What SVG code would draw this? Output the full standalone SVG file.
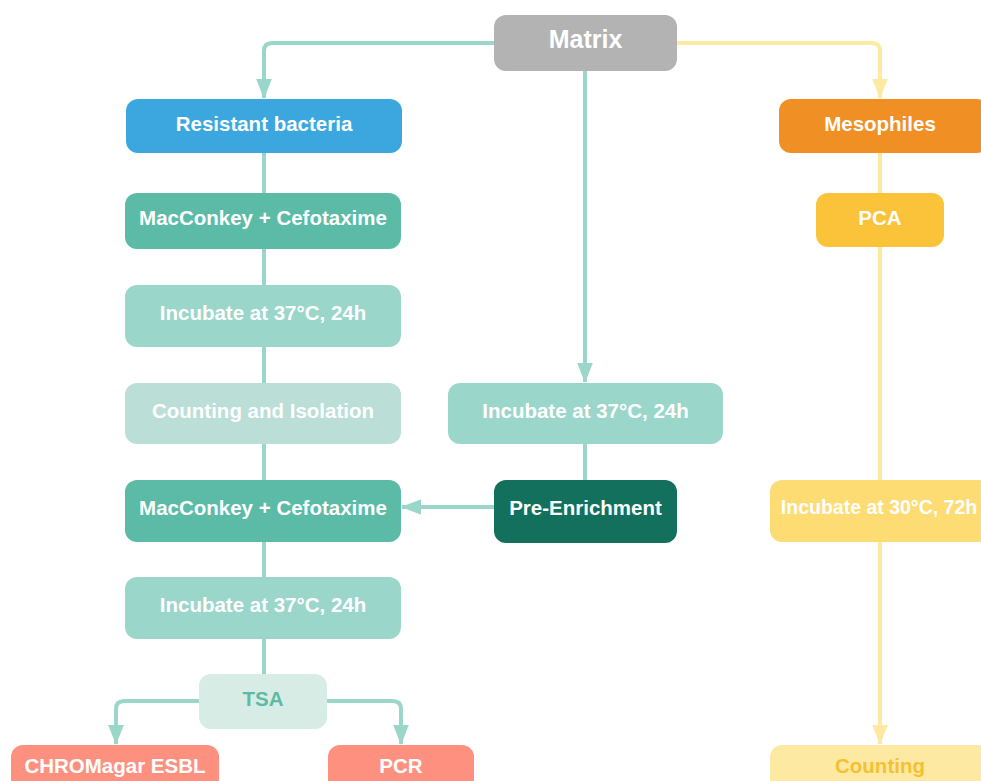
<svg xmlns="http://www.w3.org/2000/svg" width="981" height="781" viewBox="0 0 981 781">
<style>
text{font-family:"Liberation Sans",Arial,sans-serif;font-weight:bold;font-size:20.5px;fill:#fff;text-anchor:middle;dominant-baseline:central}
.g{fill:none;stroke:#9bd6ca;stroke-width:4;stroke-linejoin:round}
.y{fill:none;stroke:#fee9a3;stroke-width:4;stroke-linejoin:round}
</style>
<defs>
<marker id="ag" viewBox="0 0 10 10" refX="9.5" refY="5" markerWidth="5" markerHeight="3.9" orient="auto" markerUnits="strokeWidth" preserveAspectRatio="none"><path d="M0,0L10,5L0,10z" fill="#9bd6ca"/></marker>
<marker id="ay" viewBox="0 0 10 10" refX="9.5" refY="5" markerWidth="5" markerHeight="3.9" orient="auto" markerUnits="strokeWidth" preserveAspectRatio="none"><path d="M0,0L10,5L0,10z" fill="#fee9a3"/></marker>
</defs>
<rect width="981" height="781" fill="#fff"/>
<g id="connectors">
<path class="g" d="M494,43H272Q264,43 264,51V98" marker-end="url(#ag)"/>
<path class="y" d="M677,43H872Q880,43 880,51V98" marker-end="url(#ay)"/>
<path class="g" d="M585,71V382" marker-end="url(#ag)"/>
<path class="g" d="M264,153V577"/>
<path class="g" d="M264,639V674"/>
<path class="g" d="M585,444V480"/>
<path class="g" d="M494,507H402" marker-end="url(#ag)"/>
<path class="g" d="M199,701H124Q116,701 116,709V744" marker-end="url(#ag)"/>
<path class="g" d="M327,701H393Q401,701 401,709V744" marker-end="url(#ag)"/>
<path class="y" d="M880,153V744" marker-end="url(#ay)"/>
</g>
<g id="matrix"><rect x="494" y="15" width="183" height="56" rx="12" fill="#b3b3b3"/><text x="585.5" y="39" style="font-size:25px">Matrix</text></g>
<g id="resistant"><rect x="126" y="99" width="276" height="54" rx="12" fill="#3ca6de"/><text x="264" y="123">Resistant bacteria</text></g>
<g id="mesophiles"><rect x="779" y="99" width="210" height="54" rx="12" fill="#f08f23"/><text x="880" y="123">Mesophiles</text></g>
<g id="macconkey1"><rect x="125" y="193" width="276" height="56" rx="12" fill="#5bbba7"/><text x="263" y="217">MacConkey + Cefotaxime</text></g>
<g id="pca"><rect x="816" y="193" width="128" height="54" rx="12" fill="#fbc33a"/><text x="880" y="217">PCA</text></g>
<g id="incubate1"><rect x="125" y="285" width="276" height="62" rx="12" fill="#9bd6ca"/><text x="263" y="312">Incubate at 37°C, 24h</text></g>
<g id="counting-isolation"><rect x="125" y="383" width="276" height="61" rx="12" fill="#bbded7"/><text x="263" y="410">Counting and Isolation</text></g>
<g id="incubate-mid"><rect x="448" y="383" width="275" height="61" rx="12" fill="#9bd6ca"/><text x="585.5" y="410">Incubate at 37°C, 24h</text></g>
<g id="macconkey2"><rect x="125" y="480" width="276" height="62" rx="12" fill="#5bbba7"/><text x="263" y="507">MacConkey + Cefotaxime</text></g>
<g id="pre-enrichment"><rect x="494" y="480" width="183" height="63" rx="12" fill="#12705c"/><text x="585.5" y="507">Pre-Enrichment</text></g>
<g id="incubate30"><rect x="770" y="480" width="220" height="62" rx="12" fill="#fddc74"/><text x="879" y="507" style="font-size:19.5px">Incubate at 30°C, 72h</text></g>
<g id="incubate3"><rect x="125" y="577" width="276" height="62" rx="12" fill="#9bd6ca"/><text x="263" y="604">Incubate at 37°C, 24h</text></g>
<g id="tsa"><rect x="199" y="674" width="128" height="55" rx="12" fill="#d8ece6"/><text x="263" y="698" style="fill:#5bbba7">TSA</text></g>
<g id="chromagar"><rect x="11" y="745" width="208" height="50" rx="12" fill="#fe9080"/><text x="115" y="765">CHROMagar ESBL</text></g>
<g id="pcr"><rect x="328" y="745" width="146" height="50" rx="12" fill="#fe9080"/><text x="401" y="765">PCR</text></g>
<g id="counting"><rect x="770" y="745" width="220" height="50" rx="12" fill="#fee9a3"/><text x="880" y="765" style="fill:#f5c132">Counting</text></g>
</svg>
